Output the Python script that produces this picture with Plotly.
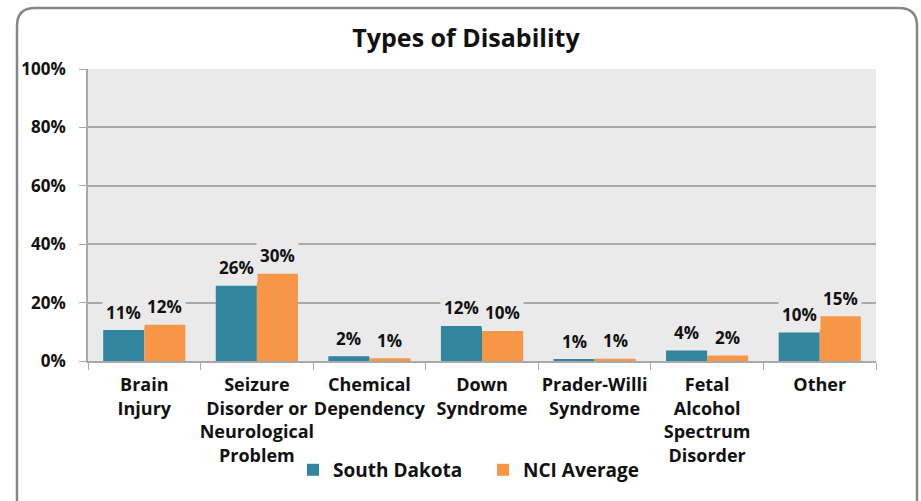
import plotly.graph_objects as go

# ---- data ----
categories = [
    "Brain<br>Injury",
    "Seizure<br>Disorder or<br>Neurological<br>Problem",
    "Chemical<br>Dependency",
    "Down<br>Syndrome",
    "Prader-Willi<br>Syndrome",
    "Fetal<br>Alcohol<br>Spectrum<br>Disorder",
    "Other",
]
south_dakota = [10.6, 25.8, 1.6, 12.0, 0.5, 3.6, 9.8]
nci_average = [12.4, 29.9, 0.9, 10.3, 0.8, 1.9, 15.3]
sd_labels = ["11%", "26%", "2%", "12%", "1%", "4%", "10%"]
nci_labels = ["12%", "30%", "1%", "10%", "1%", "2%", "15%"]
y_ticks = [0, 20, 40, 60, 80, 100]
y_ticktext = ["0%", "20%", "40%", "60%", "80%", "100%"]

# ---- style ----
TEAL = "#31859C"
ORANGE = "#F79646"
PLOT_BG = "#EAEAEA"
GRID = "#A9A9A9"
BORDER = "#868686"
INK = "#111111"
FONT = "Open Sans"

W, H = 921, 501
L, R, T, B = 88, 45, 69, 140   # plot area 88..876 x 69..361
BARGAP = 0.27
HALF_BAR = (W - L - R) / len(categories) * (1 - BARGAP) / 4


def px2paper(px, py):
    return (px - L) / (W - L - R), (H - B - py) / (H - T - B)


def rounded_box(x0, y0, x1, y1, r):
    def p(x, y):
        a, b = px2paper(x, y)
        return f"{a:.5f},{b:.5f}"
    return (f"M {p(x0, y1)} L {p(x0, y0 + r)} Q {p(x0, y0)} {p(x0 + r, y0)} "
            f"L {p(x1 - r, y0)} Q {p(x1, y0)} {p(x1, y0 + r)} L {p(x1, y1)}")


fig = go.Figure()
fig.add_trace(go.Bar(x=categories, y=south_dakota, name="South Dakota",
                     marker=dict(color=TEAL, line=dict(width=0))))
fig.add_trace(go.Bar(x=categories, y=nci_average, name="NCI Average",
                     marker=dict(color=ORANGE, line=dict(width=0))))

# value labels sitting above each bar, with a plot-coloured box like the original
for vals, labels, shift in ((south_dakota, sd_labels, -HALF_BAR),
                            (nci_average, nci_labels, HALF_BAR)):
    for cat, v, lab in zip(categories, vals, labels):
        fig.add_annotation(x=cat, y=v, text=f"<b>{lab}</b>", showarrow=False,
                           xshift=shift, yshift=18, yanchor="middle",
                           bgcolor=PLOT_BG, borderpad=3,
                           font=dict(family=FONT, size=17, color=INK))

fig.add_shape(type="path", xref="paper", yref="paper", layer="above",
              path=rounded_box(17, 8, 917, 520, 18),
              line=dict(color=BORDER, width=2.5))

fig.update_layout(
    width=W, height=H,
    paper_bgcolor="white", plot_bgcolor=PLOT_BG,
    margin=dict(l=L, r=R, t=T, b=B),
    barmode="group", bargap=BARGAP, bargroupgap=0,
    font=dict(family=FONT, color=INK),
    title=dict(text="<b>Types of Disability</b>", x=466 / W, xanchor="center",
               xref="container", y=1 - 38 / H, yanchor="middle",
               font=dict(family=FONT, size=25, color=INK)),
    xaxis=dict(
        tickson="boundaries", ticks="outside", ticklen=7, tickcolor=GRID,
        showgrid=False, showline=True, linecolor=GRID, linewidth=1.5,
        tickfont=dict(family=FONT, size=18, color=INK, weight="bold"),
        tickangle=0, ticklabelstandoff=7,
    ),
    yaxis=dict(
        range=[0, 100], tickvals=y_ticks, ticktext=y_ticktext,
        ticks="outside", ticklen=7, tickcolor=GRID,
        showgrid=True, gridcolor=GRID, gridwidth=1.5,
        showline=True, linecolor=GRID, linewidth=1.5, zeroline=False,
        ticklabelstandoff=10,
        tickfont=dict(family=FONT, size=17, color=INK, weight="bold"),
    ),
    legend=dict(
        orientation="h", x=(293 - L) / (W - L - R), xanchor="left",
        y=-0.373, yanchor="middle", entrywidth=145, entrywidthmode="pixels",
        font=dict(family=FONT, size=19, color=INK, weight="bold"),
        bgcolor="rgba(0,0,0,0)",
    ),
)

fig.write_html("out.html", config={"displayModeBar": False},
               post_script="document.body.style.margin='0px';")
